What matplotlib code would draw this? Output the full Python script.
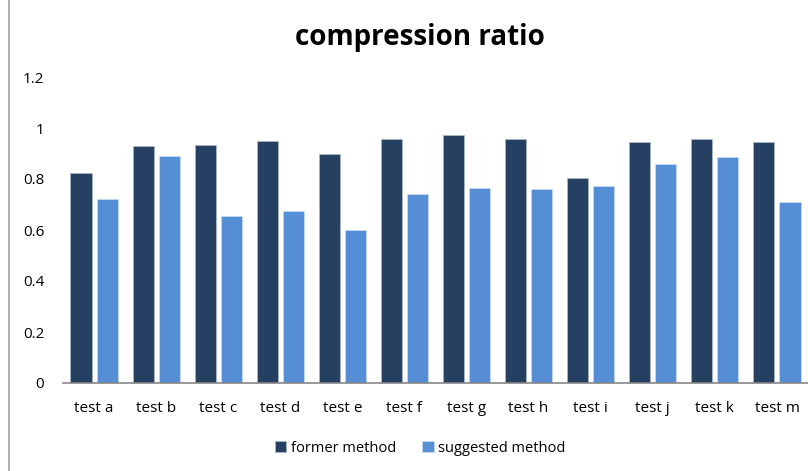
import numpy as np
import matplotlib
matplotlib.use('Agg')
import matplotlib.pyplot as plt
from matplotlib.lines import Line2D

plt.rcParams['font.family'] = ['Open Sans', 'DejaVu Sans']

tests = ['test a', 'test b', 'test c', 'test d', 'test e', 'test f',
         'test g', 'test h', 'test i', 'test j', 'test k', 'test m']
former = [0.824, 0.931, 0.933, 0.950, 0.899, 0.955,
          0.972, 0.958, 0.805, 0.945, 0.957, 0.944]
suggested = [0.720, 0.890, 0.655, 0.676, 0.600, 0.742,
             0.766, 0.762, 0.772, 0.859, 0.886, 0.710]

dark = '#264061'
light = '#558ED5'

fig = plt.figure(figsize=(8.08, 4.71), dpi=100)
ax = fig.add_axes([63 / 808, 1 - 383 / 471, 745 / 808, 306 / 471])

x = np.arange(len(tests))
w = 0.34
ax.bar(x - 0.21, former, w, color=dark, edgecolor='#a9b8cc', linewidth=0.6, label='former method')
ax.bar(x + 0.21, suggested, w, color=light, edgecolor='#c6d9f1', linewidth=0.6, label='suggested method')

ax.set_xlim(-0.5, len(tests) - 0.5)
ax.set_ylim(0, 1.2)
ax.set_yticks([0, 0.2, 0.4, 0.6, 0.8, 1, 1.2])
ax.set_yticklabels(['0', '0.2', '0.4', '0.6', '0.8', '1', '1.2'])
ax.set_xticks(x)
ax.set_xticklabels(tests)
ax.tick_params(axis='both', length=0, labelsize=11, colors='black')
ax.tick_params(axis='x', pad=13)
ax.tick_params(axis='y', pad=13.5)
for s in ['top', 'right', 'left']:
    ax.spines[s].set_visible(False)
ax.spines['bottom'].set_color('#868686')
ax.spines['bottom'].set_linewidth(1.2)

fig.text(420 / 808, 1 - 37 / 471, 'compression ratio', ha='center', va='center',
         fontsize=20, fontweight='bold')

fig.legend(loc='center', bbox_to_anchor=(420 / 808, 1 - 448 / 471), ncol=2,
           frameon=False, fontsize=10.5, handlelength=0.8, handleheight=0.8,
           handletextpad=0.3, columnspacing=1.8)

fig.add_artist(Line2D([9 / 808, 9 / 808], [0, 1], color='#a6a6a6', linewidth=1.2))

fig.savefig('out.png', dpi=100)
